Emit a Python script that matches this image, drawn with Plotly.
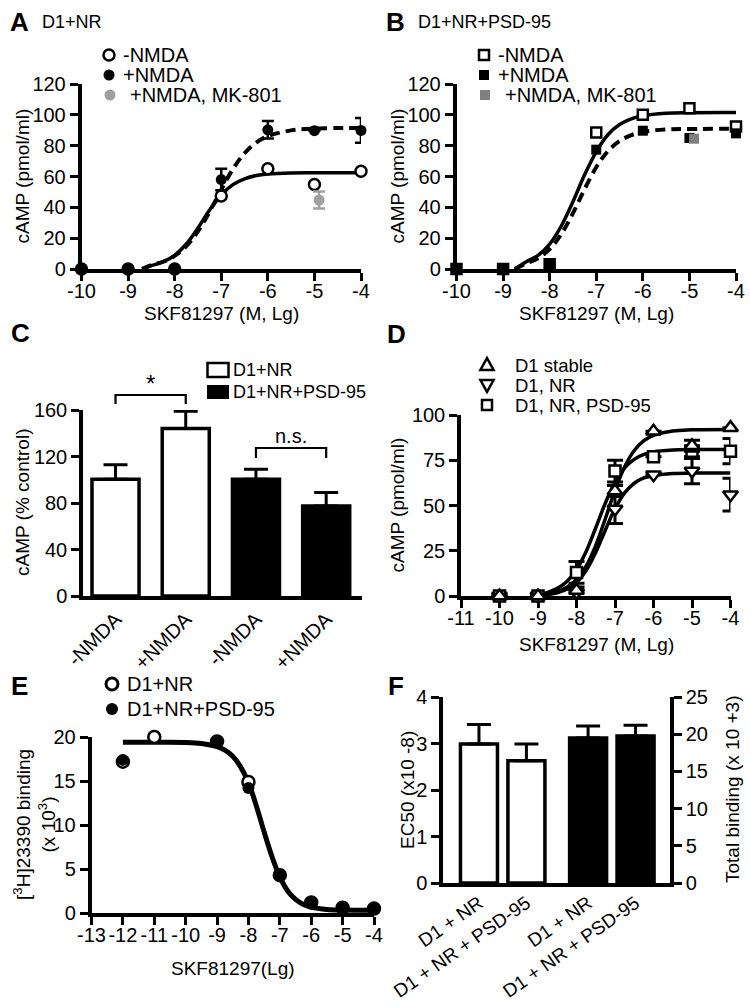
import plotly.graph_objects as go

W, H = 750, 1008
FONT = "Liberation Sans, Arial, Helvetica, sans-serif"

# ---------------- data ----------------
# Panel A  (D1+NR)
a_x = [-10, -9, -8, -7, -6, -5, -4]
a_minus = [0, 0, 0, 47.3, 65, 54.8, 63.4]
a_plus = [0, 0, 0, 58, 90.3, 89.7, 89.9]
a_plus_err = [0, 0, 0, 7, 5.7, 0, 8]
a_mk_x = [-4.9]
a_mk = [44.7]
a_mk_err = [5.5]
fit_a_x = [-8.7, -8.5, -8.25, -8, -7.75, -7.5, -7.25, -7, -6.75, -6.5, -6.25, -6, -5.5, -5, -4]
fit_a_minus = [0, 2.2, 4.6, 8.9, 16.2, 26.6, 38.2, 48, 54.7, 58.5, 60.6, 61.6, 62.3, 62.4, 62.5]
fit_a_plus = [0, 2.6, 4.7, 8.5, 14.8, 24.4, 37.2, 51.5, 64.8, 75.1, 82, 86.2, 89.9, 91.1, 91.5]

# Panel B  (D1+NR+PSD-95)
b_x = [-10, -9, -8, -7, -6, -5, -4]
b_minus = [0, 0, 3, 88.6, 100, 104.3, 92.5]
b_plus = [0, 0, 3.2, 77.4, 89.7, 85, 88]
b_mk_x = [-4.9]
b_mk = [84.5]
fit_b_x = [-8.75, -8.5, -8.25, -8, -7.75, -7.5, -7.25, -7, -6.75, -6.5, -6.25, -6, -5.5, -5, -4]
fit_b_minus = [0, 4.7, 8.8, 16.2, 27.9, 43.7, 61.1, 76, 87.1, 93.7, 97.4, 99.4, 101, 101.4, 101.5]
fit_b_plus = [0, 3.6, 7, 12.9, 22.7, 36.2, 51.8, 66, 76.4, 83, 86.8, 88.9, 90.5, 90.8, 91]

ab_xticks = [-10, -9, -8, -7, -6, -5, -4]
ab_xlabels = ["-10", "-9", "-8", "-7", "-6", "-5", "-4"]
ab_yticks = [0, 20, 40, 60, 80, 100, 120]

# Panel C
c_labels = ["-NMDA", "+NMDA", "-NMDA", "+NMDA"]
c_vals = [100.5, 144, 100.5, 77.5]
c_err = [12.5, 15, 8.5, 11.5]
c_colors = ["white", "white", "black", "black"]
c_yticks = [0, 40, 80, 120, 160]

# Panel D
d_x = [-10, -9, -8, -7, -6, -5, -4]
d_stable = [0, 0, 3, 58, 91, 83, 93]
d_stable_err = [0, 0, 0, 3, 0, 3, 0]
d_nr = [0, 0, 2, 48, 67, 69, 56]
d_nr_err = [0, 0, 3, 8, 0, 7, 9]
d_psd = [0, 0, 13, 69, 77, 80, 80]
d_psd_err = [0, 0, 6, 6, 0, 3, 7]
fit_d_x = [-9, -8.5, -8.25, -8, -7.75, -7.5, -7.25, -7, -6.75, -6.5, -6.25, -6, -5.5, -5, -4]
fit_d_stable = [0, 2.5, 4.8, 9.1, 16.5, 28, 42.8, 58.4, 71.4, 80.4, 85.8, 88.8, 91.2, 91.8, 92]
fit_d_nr = [0, 1.8, 3.7, 7.4, 14, 24.1, 36.5, 48.3, 57, 62.3, 65.2, 66.6, 67.7, 67.9, 68]
fit_d_psd = [0, 4.2, 8, 14.5, 24.6, 37.7, 51.4, 62.9, 70.8, 75.5, 78.2, 79.6, 80.6, 80.9, 81]
d_xticks = [-11, -10, -9, -8, -7, -6, -5, -4]
d_xlabels = ["-11", "-10", "-9", "-8", "-7", "-6", "-5", "-4"]
d_yticks = [0, 25, 50, 75, 100]

# Panel E
e_x = [-12, -11, -9, -8, -7, -6, -5, -4]
e_nr = [17.2, 20, 19.5, 14.9, 4.3, 1.2, 0.6, 0.5]
e_psd = [17.4, 20.1, 19.4, 14.2, 4.2, 1.2, 0.6, 0.5]
fit_e_x = [-12, -11, -10, -9.5, -9, -8.75, -8.5, -8.25, -8, -7.75, -7.5, -7.25, -7,
           -6.75, -6.5, -6.25, -6, -5.5, -5, -4]
fit_e = [19.4, 19.4, 19.38, 19.26, 18.9, 18.5, 17.8, 16.6, 14.8, 12.2, 9.2, 6.4, 4.1,
         2.5, 1.55, 0.98, 0.67, 0.4, 0.33, 0.3]
e_xticks = [-13, -12, -11, -10, -9, -8, -7, -6, -5, -4]
e_xlabels = ["-13", "-12", "-11", "-10", "-9", "-8", "-7", "-6", "-5", "-4"]
e_yticks = [0, 5, 10, 15, 20]

# Panel F
f_labels = ["D1 + NR", "D1 + NR + PSD-95", "D1 + NR", "D1 + NR + PSD-95"]
f_ec50 = [2.99, 2.63]
f_ec50_err = [0.42, 0.36]
f_total = [19.5, 19.75]
f_total_err = [1.6, 1.45]
f_yticks = [0, 1, 2, 3, 4]
f_y2ticks = [0, 5, 10, 15, 20, 25]

# ---------------- helpers ----------------
def fx(p):
    return p / W


def fy(p):
    return 1 - p / H


AX = dict(showgrid=False, zeroline=False, showline=True, linecolor="black",
          linewidth=3.5, ticks="outside", ticklen=8, tickwidth=3, tickcolor="black",
          tickfont=dict(family=FONT, size=20, color="black"), layer="below traces",
          fixedrange=True, automargin=False)


def xax(l, r, rng, anchor, **kw):
    d = dict(AX)
    d.update(domain=[fx(l), fx(r)], range=rng, anchor=anchor, tickangle=0,
             ticklabelstandoff=-7)
    d.update(kw)
    return d


def yax(top, bot, rng, anchor, **kw):
    d = dict(AX)
    d.update(domain=[fy(bot), fy(top)], range=rng, anchor=anchor)
    d.update(kw)
    return d


def txt(x, y, s, size=20, anchor="left", bold=False, angle=0, color="black"):
    if bold:
        s = "<b>" + s + "</b>"
    return dict(x=fx(x), y=fy(y), xref="paper", yref="paper", text=s, showarrow=False,
                xanchor=anchor, yanchor="middle", textangle=angle,
                font=dict(family=FONT, size=size, color=color))


def circ(cx, cy, r, fill, lw=2.5, lc="black"):
    return dict(type="circle", xref="paper", yref="paper", x0=fx(cx - r), x1=fx(cx + r),
                y0=fy(cy + r), y1=fy(cy - r), fillcolor=fill,
                line=dict(color=lc, width=lw))


def sq(cx, cy, r, fill, lw=2.5, lc="black"):
    return dict(type="rect", xref="paper", yref="paper", x0=fx(cx - r), x1=fx(cx + r),
                y0=fy(cy + r), y1=fy(cy - r), fillcolor=fill,
                line=dict(color=lc, width=lw))


def tri(cx, cy, s, up=True):
    if up:
        pts = [(cx, cy - s * 0.62), (cx - s * 0.6, cy + s * 0.45), (cx + s * 0.6, cy + s * 0.45)]
    else:
        pts = [(cx, cy + s * 0.62), (cx - s * 0.6, cy - s * 0.45), (cx + s * 0.6, cy - s * 0.45)]
    path = "M " + " L ".join(f"{fx(a)},{fy(b)}" for a, b in pts) + " Z"
    return dict(type="path", xref="paper", yref="paper", path=path, fillcolor="white",
                line=dict(color="black", width=2.5))


def err(arr, color="black", width=6, thick=2.5, minus=None):
    d = dict(type="data", array=arr, visible=True, color=color, thickness=thick, width=width)
    if minus is not None:
        d.update(symmetric=False, arrayminus=minus)
    return d


OPEN = dict(color="white", line=dict(color="black", width=2.5))
FILLED = dict(color="black", line=dict(color="black", width=0))

fig = go.Figure()

# ---------------- Panel A ----------------
fig.add_trace(go.Scatter(x=fit_a_x, y=fit_a_minus, mode="lines", line=dict(color="black", width=3.5, shape="spline"),
                         xaxis="x", yaxis="y", hoverinfo="skip"))
fig.add_trace(go.Scatter(x=fit_a_x, y=fit_a_plus, mode="lines",
                         line=dict(color="black", width=4, dash="10px,6px", shape="spline"),
                         xaxis="x", yaxis="y", hoverinfo="skip"))
fig.add_trace(go.Scatter(x=a_x, y=a_minus, mode="markers", marker=dict(symbol="circle", size=11, **OPEN),
                         xaxis="x", yaxis="y", cliponaxis=False))
fig.add_trace(go.Scatter(x=a_x, y=a_plus, mode="markers", marker=dict(symbol="circle", size=11, **FILLED),
                         error_y=err(a_plus_err), xaxis="x", yaxis="y", cliponaxis=False))
fig.add_trace(go.Scatter(x=a_mk_x, y=a_mk, mode="markers", marker=dict(symbol="circle", size=11, color="#a0a0a0"),
                         error_y=err(a_mk_err, color="#a0a0a0"), xaxis="x", yaxis="y", cliponaxis=False))

# ---------------- Panel B ----------------
fig.add_trace(go.Scatter(x=fit_b_x, y=fit_b_minus, mode="lines", line=dict(color="black", width=3.5, shape="spline"),
                         xaxis="x2", yaxis="y2", hoverinfo="skip"))
fig.add_trace(go.Scatter(x=fit_b_x, y=fit_b_plus, mode="lines",
                         line=dict(color="black", width=4, dash="10px,6px", shape="spline"),
                         xaxis="x2", yaxis="y2", hoverinfo="skip"))
fig.add_trace(go.Scatter(x=b_x, y=b_minus, mode="markers", marker=dict(symbol="square", size=10, **OPEN),
                         xaxis="x2", yaxis="y2", cliponaxis=False))
fig.add_trace(go.Scatter(x=b_x, y=b_plus, mode="markers", marker=dict(symbol="square", size=10, **FILLED),
                         xaxis="x2", yaxis="y2", cliponaxis=False))
fig.add_trace(go.Scatter(x=b_mk_x, y=b_mk, mode="markers", marker=dict(symbol="square", size=10, color="#808080"),
                         xaxis="x2", yaxis="y2", cliponaxis=False))

# ---------------- Panel C ----------------
c_pos = list(range(len(c_labels)))
fig.add_trace(go.Bar(x=c_pos, y=c_vals, width=0.67,
                     marker=dict(color=c_colors, line=dict(color="black", width=3.5)),
                     error_y=err(c_err, width=12, thick=3, minus=[0] * len(c_err)),
                     xaxis="x3", yaxis="y3", cliponaxis=False))

# ---------------- Panel D ----------------
for ys in (fit_d_stable, fit_d_psd, fit_d_nr):
    fig.add_trace(go.Scatter(x=fit_d_x, y=ys, mode="lines", line=dict(color="black", width=3.5, shape="spline"),
                             xaxis="x4", yaxis="y4", hoverinfo="skip"))
fig.add_trace(go.Scatter(x=d_x, y=d_nr, mode="markers", marker=dict(symbol="triangle-down", size=13, **OPEN),
                         error_y=err(d_nr_err, width=8, thick=3), xaxis="x4", yaxis="y4", cliponaxis=False))
fig.add_trace(go.Scatter(x=d_x, y=d_psd, mode="markers", marker=dict(symbol="square", size=11, **OPEN),
                         error_y=err(d_psd_err, width=8, thick=3), xaxis="x4", yaxis="y4", cliponaxis=False))
fig.add_trace(go.Scatter(x=d_x, y=d_stable, mode="markers", marker=dict(symbol="triangle-up", size=13, **OPEN),
                         error_y=err(d_stable_err, width=8, thick=3), xaxis="x4", yaxis="y4", cliponaxis=False))

# ---------------- Panel E ----------------
fig.add_trace(go.Scatter(x=fit_e_x, y=fit_e, mode="lines", line=dict(color="black", width=5, shape="spline"),
                         xaxis="x5", yaxis="y5", hoverinfo="skip"))
fig.add_trace(go.Scatter(x=e_x, y=e_nr, mode="markers", marker=dict(symbol="circle", size=12, **OPEN),
                         xaxis="x5", yaxis="y5", cliponaxis=False))
fig.add_trace(go.Scatter(x=e_x, y=e_psd, mode="markers", marker=dict(symbol="circle", size=12, **FILLED),
                         xaxis="x5", yaxis="y5", cliponaxis=False))

# ---------------- Panel F ----------------
f_pos = [0, 1, 2.3, 3.3]
fig.add_trace(go.Bar(x=f_pos[:2], y=f_ec50, width=0.78,
                     marker=dict(color="white", line=dict(color="black", width=3.5)),
                     error_y=err(f_ec50_err, width=12, thick=3, minus=[0, 0]),
                     xaxis="x6", yaxis="y6", cliponaxis=False))
fig.add_trace(go.Bar(x=f_pos[2:], y=f_total, width=0.78,
                     marker=dict(color="black", line=dict(color="black", width=3.5)),
                     error_y=err(f_total_err, width=12, thick=3, minus=[0, 0]),
                     xaxis="x6", yaxis="y7", cliponaxis=False))

# ---------------- layout ----------------
layout = dict(
    width=W, height=H, margin=dict(l=0, r=0, t=0, b=0, autoexpand=False), autosize=False,
    paper_bgcolor="white", plot_bgcolor="white", showlegend=False, barmode="overlay",
    font=dict(family=FONT, color="black"),
    # A
    xaxis=xax(81.5, 361, [-10, -4], "y", tickvals=ab_xticks, ticktext=ab_xlabels),
    yaxis=yax(84, 269, [0, 120], "x", tickvals=ab_yticks),
    # B
    xaxis2=xax(456.5, 736, [-10, -4], "y2", tickvals=ab_xticks, ticktext=ab_xlabels),
    yaxis2=yax(84, 269, [0, 120], "x2", tickvals=ab_yticks),
    # C
    xaxis3=xax(83, 362, [-0.463, 3.51], "y3", tickvals=c_pos, ticktext=c_labels,
               ticks="", tickangle=-45, ticklabelstandoff=0),
    yaxis3=yax(410, 596, [0, 160], "x3", tickvals=c_yticks),
    # D
    xaxis4=xax(461, 730.5, [-11, -4], "y4", tickvals=d_xticks, ticktext=d_xlabels),
    yaxis4=yax(415, 596, [0, 100], "x4", tickvals=d_yticks),
    # E
    xaxis5=xax(91.5, 374, [-13, -4], "y5", tickvals=e_xticks, ticktext=e_xlabels),
    yaxis5=yax(737, 913, [0, 20], "x5", tickvals=e_yticks),
    # F
    xaxis6=xax(443, 670, [-0.758, 4.026], "y6", tickvals=f_pos, ticktext=f_labels,
               ticks="", tickangle=-35, ticklabelstandoff=-2,
               tickfont=dict(family=FONT, size=19, color="black")),
    yaxis6=yax(697, 883, [0, 4], "x6", tickvals=f_yticks),
    yaxis7=dict(AX, range=[0, 25], tickvals=f_y2ticks, overlaying="y6", side="right", anchor="x6"),
)

ann = []
# panel letters and subtitles
ann += [txt(8, 22, "A", 26, bold=True), txt(40, 22, "D1+NR", 18),
        txt(384, 22, "B", 26, bold=True), txt(416, 22, "D1+NR+PSD-95", 18),
        txt(9, 333, "C", 26, bold=True), txt(385, 334, "D", 26, bold=True),
        txt(9, 686, "E", 26, bold=True), txt(386, 686, "F", 26, bold=True)]
# axis titles
ann += [txt(22, 176.5, "cAMP (pmol/ml)", 19, "center", angle=-90),
        txt(397, 176.5, "cAMP (pmol/ml)", 19, "center", angle=-90),
        txt(221, 313, "SKF81297 (M, Lg)", 19, "center"),
        txt(596, 313, "SKF81297 (M, Lg)", 19, "center"),
        txt(22, 503, "cAMP (% control)", 19, "center", angle=-90),
        txt(397, 505.5, "cAMP (pmol/ml)", 19, "center", angle=-90),
        txt(596, 644, "SKF81297 (M, Lg)", 19, "center"),
        txt(34, 825, "[<sup>3</sup>H]23390 binding<br>(x 10<sup>3</sup>)", 19, "center", angle=-90),
        txt(233, 968, "SKF81297(Lg)", 19, "center"),
        txt(407, 790, "EC50 (x10 -8)", 19, "center", angle=-90),
        txt(732, 790, "Total binding (x 10 +3)", 19, "center", angle=-90)]
# legends text
ann += [txt(121, 55, "-NMDA", 20), txt(121, 75, "+NMDA", 20), txt(128, 95, "+NMDA, MK-801", 20),
        txt(496, 55, "-NMDA", 20), txt(496, 75, "+NMDA", 20), txt(503, 95, "+NMDA, MK-801", 20),
        txt(231, 370, "D1+NR", 18), txt(231, 392, "D1+NR+PSD-95", 18),
        txt(513, 365, "D1 stable", 18.5), txt(513, 385, "D1, NR", 18.5), txt(513, 405, "D1, NR, PSD-95", 18.5),
        txt(125, 684, "D1+NR", 20), txt(125, 709, "D1+NR+PSD-95", 20)]
# significance labels (x in category units of panel C)
ann += [dict(x=0.5, y=fy(383), xref="x3", yref="paper", text="*", showarrow=False,
             xanchor="center", yanchor="middle", font=dict(family=FONT, size=24, color="black")),
        dict(x=2.5, y=fy(436), xref="x3", yref="paper", text="n.s.", showarrow=False,
             xanchor="center", yanchor="middle", font=dict(family=FONT, size=20, color="black"))]
layout["annotations"] = ann

shapes = []
# legend glyphs
shapes += [circ(109, 55, 5.5, "white"), circ(109, 75, 5.5, "black", lw=0),
           circ(110, 95, 5.5, "#a0a0a0", lw=0, lc="#a0a0a0"),
           sq(484, 55, 5, "white"), sq(484, 75, 5, "black", lw=0),
           sq(485, 95, 5, "#808080", lw=0, lc="#808080"),
           sq(218, 370, 10.5, "white", lw=2.5) | dict(y0=fy(377), y1=fy(363)),
           sq(218, 392, 11, "black", lw=0) | dict(y0=fy(399), y1=fy(385)),
           tri(487, 365, 11, True), tri(487, 385, 11, False), sq(487, 405, 5, "white"),
           circ(112, 684, 6, "white", lw=3), circ(112, 709, 6, "black", lw=0)]
# significance brackets
br = dict(color="black", width=2.2)
shapes += [dict(type="path", xref="x3", yref="paper",
                path=f"M 0,{fy(404)} L 0,{fy(395)} L 1,{fy(395)} L 1,{fy(404)}", line=br),
           dict(type="path", xref="x3", yref="paper",
                path=f"M 2,{fy(458)} L 2,{fy(448)} L 3,{fy(448)} L 3,{fy(458)}", line=br)]
layout["shapes"] = shapes

fig.update_layout(**layout)
# remove the browser's default 8px body margin so the figure sits at the page origin
fig.write_html("out.html", config={"displayModeBar": False},
               post_script="document.body.style.margin='0';")
